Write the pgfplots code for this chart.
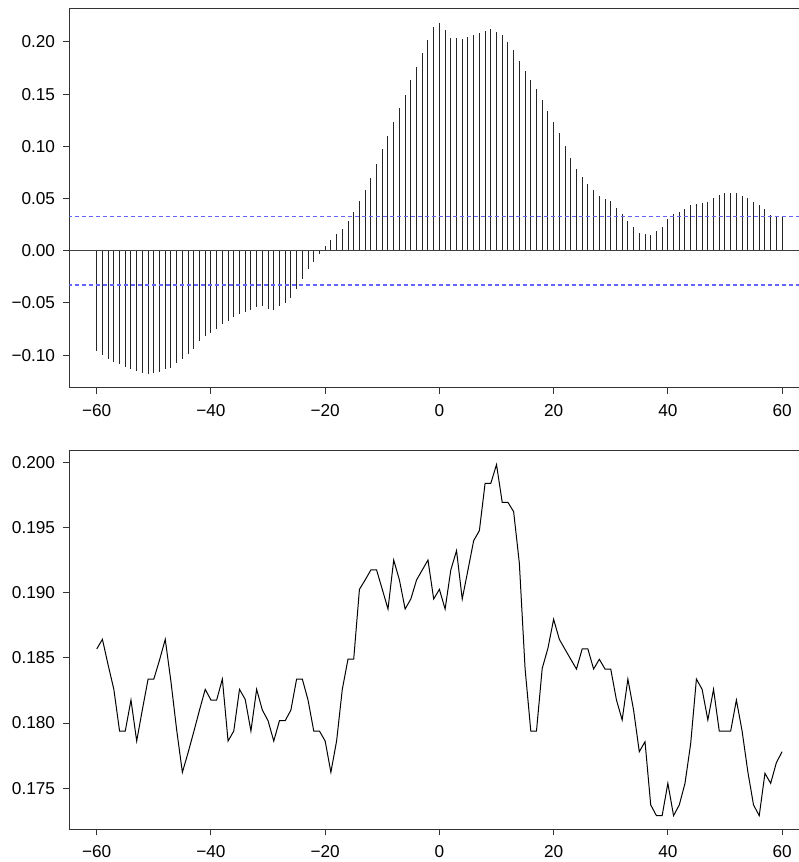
\documentclass[border=0pt]{standalone}
\usepackage{pgfplots}
\pgfplotsset{compat=1.18}
\usepackage{pgfplotstable}
\usepackage{fontspec}
\setmainfont{Liberation Sans}
\definecolor{ciblue}{RGB}{100,100,255}

\pgfplotstableread{
lag val
-60 -0.0958
-59 -0.0996
-58 -0.1040
-57 -0.1063
-56 -0.1086
-55 -0.1110
-54 -0.1137
-53 -0.1156
-52 -0.1175
-51 -0.1181
-50 -0.1175
-49 -0.1162
-48 -0.1137
-47 -0.1121
-46 -0.1080
-45 -0.1038
-44 -0.0987
-43 -0.0939
-42 -0.0865
-41 -0.0817
-40 -0.0785
-39 -0.0747
-38 -0.0706
-37 -0.0677
-36 -0.0635
-35 -0.0610
-34 -0.0587
-33 -0.0565
-32 -0.0536
-31 -0.0530
-30 -0.0559
-29 -0.0568
-28 -0.0527
-27 -0.0504
-26 -0.0450
-25 -0.0364
-24 -0.0273
-23 -0.0179
-22 -0.0107
-21 -0.0030
-20 0.0045
-19 0.0102
-18 0.0156
-17 0.0204
-16 0.0280
-15 0.0374
-14 0.0473
-13 0.0584
-12 0.0699
-11 0.0833
-10 0.0977
-9 0.1102
-8 0.1229
-7 0.1363
-6 0.1488
-5 0.1632
-4 0.1759
-3 0.1897
-2 0.2021
-1 0.2146
0 0.2184
1 0.2117
2 0.2040
3 0.2040
4 0.2031
5 0.2047
6 0.2063
7 0.2082
8 0.2107
9 0.2126
10 0.2098
11 0.2063
12 0.1996
13 0.1919
14 0.1820
15 0.1721
16 0.1632
17 0.1545
18 0.1440
19 0.1335
20 0.1232
21 0.1127
22 0.1003
23 0.0888
24 0.0782
25 0.0709
26 0.0642
27 0.0578
28 0.0527
29 0.0492
30 0.0473
31 0.0409
32 0.0354
33 0.0281
34 0.0224
35 0.0169
36 0.0160
37 0.0153
38 0.0185
39 0.0224
40 0.0303
41 0.0348
42 0.0374
43 0.0399
44 0.0437
45 0.0447
46 0.0457
47 0.0469
48 0.0504
49 0.0530
50 0.0549
51 0.0556
52 0.0552
53 0.0524
54 0.0501
55 0.0466
56 0.0437
57 0.0396
58 0.0338
59 0.0326
60 0.0322
}\ccftable

\pgfplotstableread{
lag val
-60 0.18569
-59 0.18643
-58 0.18446
-57 0.18259
-56 0.17939
-55 0.17939
-54 0.18177
-53 0.17862
-52 0.18105
-51 0.18338
-50 0.18338
-49 0.18484
-48 0.18643
-47 0.18318
-46 0.17947
-45 0.17622
-44 0.17773
-43 0.17934
-42 0.18100
-41 0.18259
-40 0.18177
-39 0.18177
-38 0.18338
-37 0.17862
-36 0.17939
-35 0.18259
-34 0.18182
-33 0.17939
-32 0.18259
-31 0.18100
-30 0.18018
-29 0.17862
-28 0.18018
-27 0.18018
-26 0.18100
-25 0.18338
-24 0.18338
-23 0.18177
-22 0.17939
-21 0.17939
-20 0.17862
-19 0.17622
-18 0.17862
-17 0.18259
-16 0.18492
-15 0.18492
-14 0.19027
-13 0.19099
-12 0.19176
-11 0.19176
-10 0.19027
-9 0.18876
-8 0.19252
-7 0.19099
-6 0.18876
-5 0.18953
-4 0.19099
-3 0.19176
-2 0.19252
-1 0.18953
0 0.19027
1 0.18876
2 0.19176
3 0.19324
4 0.18953
5 0.19176
6 0.19401
7 0.19478
8 0.19841
9 0.19841
10 0.19985
11 0.19695
12 0.19695
13 0.19624
14 0.19227
15 0.18420
16 0.17939
17 0.17939
18 0.18420
19 0.18574
20 0.18797
21 0.18643
22 0.18566
23 0.18490
24 0.18415
25 0.18569
26 0.18569
27 0.18415
28 0.18490
29 0.18415
30 0.18415
31 0.18177
32 0.18024
33 0.18338
34 0.18100
35 0.17780
36 0.17857
37 0.17371
38 0.17289
39 0.17289
40 0.17537
41 0.17289
42 0.17371
43 0.17537
44 0.17844
45 0.18338
46 0.18259
47 0.18024
48 0.18259
49 0.17939
50 0.17939
51 0.17939
52 0.18177
53 0.17939
54 0.17627
55 0.17371
56 0.17289
57 0.17614
58 0.17537
59 0.17696
60 0.17780
}\linetable

\pgfplotsset{
  rstyle/.style={
    scale only axis,
    width=370.1pt,
    height=189.35pt,
    xmin=-64.8, xmax=64.8,
    axis x line*=box,
    axis y line*=left,
    axis line style={line width=0.5pt, black!80, -},
    tick align=outside,
    tick pos=left,
    xtick pos=bottom,
    major tick length=3pt,
    tick style={line width=0.5pt, black!80},
    xtick={-60,-40,-20,0,20,40,60},
    xticklabels={−60,−40,−20,0,20,40,60},
    ticklabel style={font=\fontsize{8.6}{10}\selectfont, text=black},
    xticklabel style={yshift=-1.8pt},
    yticklabel style={xshift=-0.6pt},
    clip=true,
  }
}

\begin{document}
\begin{tikzpicture}[x=1pt,y=1pt]
\useasboundingbox (0,0) rectangle (399,431);
\begin{axis}[rstyle,
  at={(34.65pt,237.15pt)}, anchor=south west,
  ymin=-0.1312, ymax=0.2315,
  ytick={-0.10,-0.05,0,0.05,0.10,0.15,0.20},
  yticklabels={−0.10,−0.05,0.00,0.05,0.10,0.15,0.20},
]
\addplot[ycomb, black!85, line width=0.5pt, mark=none] table[x=lag,y=val] {\ccftable};
\addplot[black!75, line width=0.6pt, mark=none] coordinates {(-70,0) (70,0)};
\addplot[ciblue, line width=0.9pt, dash pattern=on 2pt off 1.5pt, mark=none] coordinates {(-70,0.0327) (70,0.0327)};
\addplot[ciblue, line width=0.9pt, dash pattern=on 2pt off 1.5pt, mark=none] coordinates {(-70,-0.0327) (70,-0.0327)};
\end{axis}
\begin{axis}[rstyle,
  at={(34.65pt,16.35pt)}, anchor=south west,
  height=189.3pt,
  ymin=0.17184, ymax=0.20092,
  ytick={0.175,0.180,0.185,0.190,0.195,0.200},
  yticklabels={0.175,0.180,0.185,0.190,0.195,0.200},
]
\addplot[black, line width=0.5pt, mark=none] table[x=lag,y=val] {\linetable};
\end{axis}
\end{tikzpicture}
\end{document}
